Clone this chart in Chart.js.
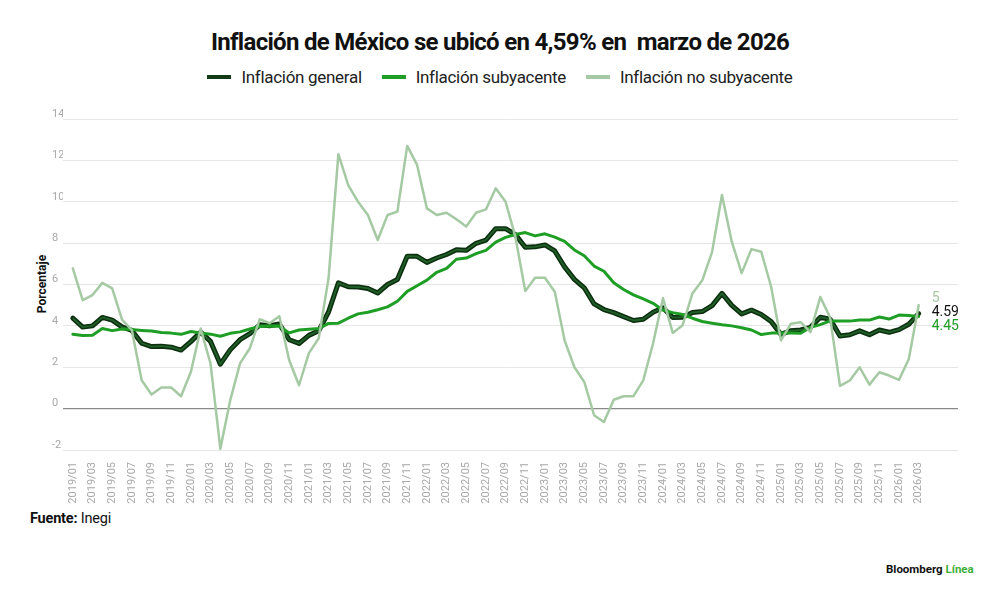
<!DOCTYPE html>
<html>
<head>
<meta charset="utf-8">
<script src="https://cdn.jsdelivr.net/npm/chart.js@4.4.1/dist/chart.umd.min.js"></script>
<style>
    body { margin: 0; width: 1000px; height: 595px; background: #fff; font-family: Roboto, "Noto Sans", sans-serif; overflow: hidden; }
    #title { position: absolute; top: 28px; left: 0; width: 1000px; text-align: center; font-size: 24px; font-weight: 700; color: #111; letter-spacing: -0.7px; }
    #legend { position: absolute; top: 67px; left: 0; width: 1000px; text-align: center; font-size: 17px; color: #222; letter-spacing: -0.3px; }
    #legend .item { display: inline-block; margin: 0 8px; }
    #legend .sw { display: inline-block; width: 24px; height: 4px; vertical-align: middle; margin-right: 10px; position: relative; top: -2px; }
    #ytitle { position: absolute; left: 42px; top: 284px; transform: translate(-50%, -50%) rotate(-90deg); font-size: 12px; font-weight: 700; color: #111; white-space: nowrap; }
    #wrap { position: absolute; left: 0; top: 100px; width: 960px; height: 410px; }
    #source { position: absolute; left: 30px; top: 510px; font-size: 14.5px; color: #111; letter-spacing: -0.2px; }
    #brand { position: absolute; left: 886px; top: 562px; font-size: 11.5px; font-weight: 700; color: #111; }
    #brand span { color: #3caf3c; }
</style>
</head>
<body>
<div id="title">Inflación de México se ubicó en 4,59% en&nbsp; marzo de 2026</div>
<div id="legend">
    <span class="item"><span class="sw" style="background:#123a14;"></span>Inflación general</span>
    <span class="item"><span class="sw" style="background:#1f9e25;"></span>Inflación subyacente</span>
    <span class="item"><span class="sw" style="background:#a5c9a3;"></span>Inflación no subyacente</span>
</div>
<div id="ytitle">Porcentaje</div>
<div id="wrap"><canvas id="chart"></canvas></div>
<div id="source"><b>Fuente:</b> Inegi</div>
<div id="brand">Bloomberg <span>Línea</span></div>

<script>
const months = [
    "2019/01", "2019/02", "2019/03", "2019/04", "2019/05", "2019/06", "2019/07", "2019/08", "2019/09", "2019/10", "2019/11", "2019/12",
    "2020/01", "2020/02", "2020/03", "2020/04", "2020/05", "2020/06", "2020/07", "2020/08", "2020/09", "2020/10", "2020/11", "2020/12",
    "2021/01", "2021/02", "2021/03", "2021/04", "2021/05", "2021/06", "2021/07", "2021/08", "2021/09", "2021/10", "2021/11", "2021/12",
    "2022/01", "2022/02", "2022/03", "2022/04", "2022/05", "2022/06", "2022/07", "2022/08", "2022/09", "2022/10", "2022/11", "2022/12",
    "2023/01", "2023/02", "2023/03", "2023/04", "2023/05", "2023/06", "2023/07", "2023/08", "2023/09", "2023/10", "2023/11", "2023/12",
    "2024/01", "2024/02", "2024/03", "2024/04", "2024/05", "2024/06", "2024/07", "2024/08", "2024/09", "2024/10", "2024/11", "2024/12",
    "2025/01", "2025/02", "2025/03", "2025/04", "2025/05", "2025/06", "2025/07", "2025/08", "2025/09", "2025/10", "2025/11", "2025/12",
    "2026/01", "2026/02", "2026/03"
];

const general = [
    4.37, 3.94, 4.00, 4.41, 4.28, 3.95, 3.78, 3.16, 3.00, 3.02, 2.97, 2.83,
    3.24, 3.70, 3.25, 2.15, 2.84, 3.33, 3.62, 4.05, 4.01, 4.09, 3.33, 3.15,
    3.54, 3.76, 4.67, 6.08, 5.89, 5.88, 5.81, 5.59, 6.00, 6.24, 7.37, 7.36,
    7.07, 7.28, 7.45, 7.68, 7.65, 7.99, 8.15, 8.70, 8.70, 8.41, 7.80, 7.82,
    7.91, 7.62, 6.85, 6.25, 5.84, 5.06, 4.79, 4.64, 4.45, 4.26, 4.32, 4.66,
    4.88, 4.40, 4.42, 4.65, 4.69, 4.98, 5.57, 4.99, 4.58, 4.76, 4.55, 4.21,
    3.59, 3.77, 3.80, 3.93, 4.42, 4.32, 3.51, 3.57, 3.76, 3.57, 3.80, 3.69,
    3.82, 4.08, 4.59
];

const subyacente = [
    3.60, 3.54, 3.55, 3.87, 3.77, 3.85, 3.82, 3.78, 3.75, 3.68, 3.65, 3.59,
    3.73, 3.66, 3.60, 3.50, 3.64, 3.71, 3.85, 3.97, 3.99, 3.98, 3.66, 3.80,
    3.84, 3.87, 4.12, 4.13, 4.37, 4.58, 4.66, 4.78, 4.92, 5.19, 5.67, 5.94,
    6.21, 6.59, 6.78, 7.22, 7.28, 7.49, 7.65, 8.05, 8.28, 8.42, 8.51, 8.35,
    8.45, 8.29, 8.09, 7.67, 7.39, 6.89, 6.64, 6.08, 5.76, 5.50, 5.30, 5.09,
    4.76, 4.64, 4.55, 4.37, 4.21, 4.13, 4.05, 4.00, 3.91, 3.80, 3.58, 3.65,
    3.66, 3.65, 3.64, 3.93, 4.06, 4.24, 4.23, 4.23, 4.28, 4.28, 4.43, 4.33,
    4.52, 4.50, 4.45
];

const noSubyacente = [
    6.78, 5.24, 5.49, 6.08, 5.81, 4.30, 3.79, 1.37, 0.68, 1.02, 1.02, 0.60,
    1.77, 3.87, 2.18, -1.94, 0.40, 2.19, 2.92, 4.32, 4.13, 4.47, 2.34, 1.13,
    2.68, 3.40, 6.30, 12.30, 10.80, 10.00, 9.36, 8.15, 9.36, 9.52, 12.70, 11.78,
    9.68, 9.36, 9.47, 9.15, 8.80, 9.47, 9.63, 10.65, 10.00, 8.30, 5.68, 6.33,
    6.33, 5.65, 3.30, 2.00, 1.29, -0.32, -0.65, 0.43, 0.60, 0.60, 1.37, 3.16,
    5.34, 3.66, 4.03, 5.57, 6.20, 7.58, 10.33, 8.07, 6.55, 7.71, 7.58, 5.89,
    3.30, 4.10, 4.18, 3.70, 5.40, 4.40, 1.10, 1.36, 2.00, 1.16, 1.76, 1.60,
    1.39, 2.40, 5.00
];

const endLabels = ["5", "4.59", "4.45"];
const yTicks = [-2, 0, 2, 4, 6, 8, 10, 12, 14];

function toPoints(values) {
    return values.map((v, i) => ({ x: i, y: v }));
}

// inner lighter stroke over the dark headline line
const innerStroke = {
    id: "innerStroke",
    afterDatasetDraw(chart, args) {
        if (args.index !== 2) return;
        const pts = args.meta.data;
        const ctx = chart.ctx;
        ctx.save();
        ctx.beginPath();
        pts.forEach((p, i) => i === 0 ? ctx.moveTo(p.x, p.y) : ctx.lineTo(p.x, p.y));
        ctx.strokeStyle = "#22602a";
        ctx.lineWidth = 1.8;
        ctx.lineJoin = "round";
        ctx.stroke();
        ctx.restore();
    }
};

// end-of-line value labels
const endValues = {
    id: "endValues",
    afterDraw(chart) {
        const ctx = chart.ctx;
        const last = chart.getDatasetMeta(2).data[months.length - 1];
        const x = last.x + 13;
        ctx.save();
        ctx.font = "14px Roboto";
        ctx.textBaseline = "middle";
        ctx.textAlign = "left";
        ctx.fillStyle = "#a5c9a3";
        ctx.fillText(endLabels[0], x, last.y - 15);
        ctx.fillStyle = "#111";
        ctx.fillText(endLabels[1], x, last.y - 1);
        ctx.fillStyle = "#1f9e25";
        ctx.fillText(endLabels[2], x, last.y + 13);
        ctx.restore();
    }
};

new Chart(document.getElementById("chart"), {
    type: "line",
    data: {
        datasets: [
            { label: "Inflación no subyacente", data: toPoints(noSubyacente), borderColor: "#a5c9a3", borderWidth: 2.5, pointRadius: 0 },
            { label: "Inflación subyacente", data: toPoints(subyacente), borderColor: "#1f9e25", borderWidth: 3, pointRadius: 0 },
            { label: "Inflación general", data: toPoints(general), borderColor: "#0c2f0f", borderWidth: 5, pointRadius: 0 }
        ]
    },
    options: {
        responsive: true,
        maintainAspectRatio: false,
        animation: false,
        layout: { padding: { left: 52, right: 2, top: 19, bottom: 0 } },
        plugins: { legend: { display: false }, tooltip: { enabled: false } },
        elements: { line: { tension: 0, borderJoinStyle: "round", borderCapStyle: "round" } },
        scales: {
            x: {
                type: "linear",
                min: -1,
                max: 90,
                grid: { display: false },
                border: { display: false },
                afterBuildTicks: (scale) => {
                    scale.ticks = months.map((m, i) => ({ value: i })).filter(t => t.value % 2 === 0);
                },
                afterFit: (scale) => { scale.height = 60; },
                ticks: {
                    autoSkip: false,
                    minRotation: 90,
                    maxRotation: 90,
                    padding: 4,
                    color: "#a8a8a8",
                    font: { family: "Roboto", size: 11 },
                    callback: (v) => months[v]
                }
            },
            y: {
                min: -2,
                max: 14,
                afterBuildTicks: (scale) => {
                    scale.ticks = yTicks.map(v => ({ value: v }));
                },
                afterFit: (scale) => { scale.width = 11; },
                border: { display: false },
                grid: {
                    drawTicks: false,
                    color: (c) => c.tick && c.tick.value === 0 ? "#8a8a8a" : "#e6e6e6",
                    lineWidth: (c) => c.tick && c.tick.value === 0 ? 1.2 : 1
                },
                ticks: {
                    crossAlign: "far",
                    padding: 0,
                    labelOffset: -5,
                    color: "#a8a8a8",
                    font: { family: "Roboto", size: 11 }
                }
            }
        }
    },
    plugins: [innerStroke, endValues]
});
</script>
</body>
</html>
